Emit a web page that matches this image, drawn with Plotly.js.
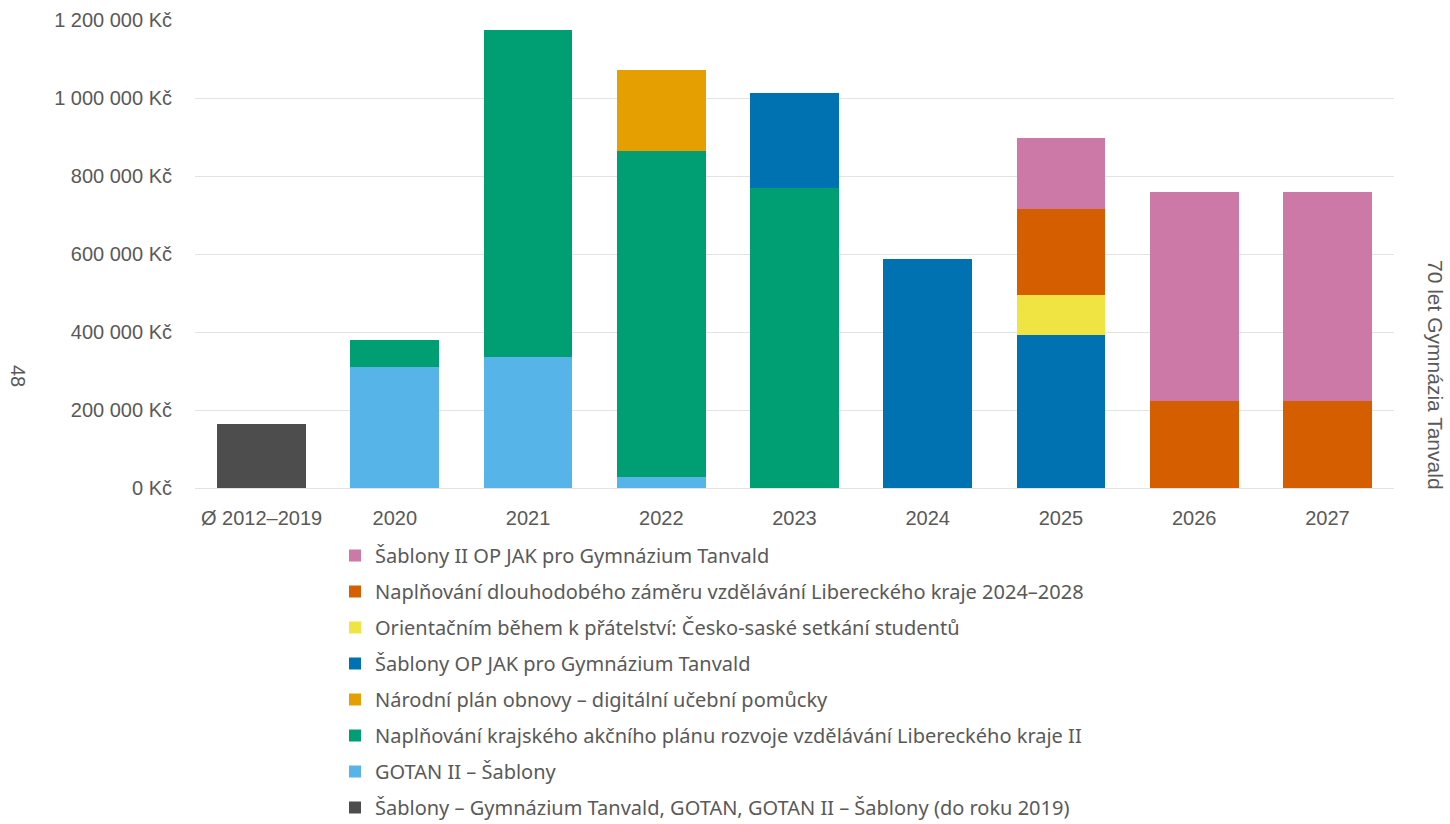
<!DOCTYPE html>
<html>
<head>
<meta charset="utf-8">
<script src="https://cdn.plot.ly/plotly-3.0.1.min.js"></script>
<style>
html,body{margin:0;padding:0;background:#fff;}
#chart{width:1450px;height:824px;}
</style>
</head>
<body>
<div id="chart"></div>
<script>
// Categories (x axis)
const categories = ["Ø 2012–2019", "2020", "2021", "2022", "2023", "2024", "2025", "2026", "2027"];

// Series values (Kč), stacked bottom to top
const sablonyDo2019   = [165000, 0, 0, 0, 0, 0, 0, 0, 0];
const gotanIISablony  = [0, 309000, 337000, 28000, 0, 0, 0, 0, 0];
const krajskyAkcni    = [0, 70000, 837000, 837000, 768000, 0, 0, 0, 0];
const narodniPlan     = [0, 0, 0, 207000, 0, 0, 0, 0, 0];
const sablonyOPJAK    = [0, 0, 0, 0, 244000, 588000, 392000, 0, 0];
const orientacnim     = [0, 0, 0, 0, 0, 0, 103000, 0, 0];
const dlouhodobyZamer = [0, 0, 0, 0, 0, 0, 221000, 223000, 223000];
const sablonyIIOPJAK  = [0, 0, 0, 0, 0, 0, 181000, 537000, 537000];

// Series names
const seriesNames = [
  "Šablony – Gymnázium Tanvald, GOTAN, GOTAN II – Šablony (do roku 2019)",
  "GOTAN II – Šablony",
  "Naplňování krajského akčního plánu rozvoje vzdělávání Libereckého kraje II",
  "Národní plán obnovy – digitální učební pomůcky",
  "Šablony OP JAK pro Gymnázium Tanvald",
  "Orientačním během k přátelství: Česko-saské setkání studentů",
  "Naplňování dlouhodobého záměru vzdělávání Libereckého kraje 2024–2028",
  "Šablony II OP JAK pro Gymnázium Tanvald"
];
const seriesColors = ["#4D4D4D", "#56B4E9", "#009E73", "#E69F00", "#0072B2", "#F0E442", "#D55E00", "#CC79A7"];
const seriesValues = [sablonyDo2019, gotanIISablony, krajskyAkcni, narodniPlan, sablonyOPJAK, orientacnim, dlouhodobyZamer, sablonyIIOPJAK];

// Y tick values and labels
const yTickValues = [0, 200000, 400000, 600000, 800000, 1000000, 1200000];
const yTickLabels = ["0 Kč", "200 000 Kč", "400 000 Kč", "600 000 Kč", "800 000 Kč", "1 000 000 Kč", "1 200 000 Kč"];

const textGray = "#595959";

const traces = seriesValues.map((vals, i) => ({
  type: "bar",
  name: seriesNames[i],
  x: categories,
  y: vals.map(v => v === 0 ? null : v),
  marker: {color: seriesColors[i], line: {width: 0}},
  legendgroup: "g" + i,
  legendrank: 1000 - i,
  hoverinfo: "name+y"
}));

const layout = {
  width: 1450,
  height: 824,
  paper_bgcolor: "#ffffff",
  plot_bgcolor: "#ffffff",
  barmode: "stack",
  bargap: 0.333,
  margin: {l: 195, r: 56, t: 20, b: 336, autoexpand: false},
  font: {family: "Liberation Sans, Arial, sans-serif", color: textGray},
  xaxis: {
    type: "category",
    tickfont: {size: 20, color: textGray, family: "Liberation Sans, Arial, sans-serif"},
    tickangle: 0,
    showgrid: false,
    showline: false,
    ticks: "",
    ticklabelstandoff: 16,
    zeroline: false
  },
  yaxis: {
    range: [0, 1200000],
    tickvals: yTickValues,
    ticktext: yTickLabels,
    tickfont: {size: 20, color: textGray, family: "Liberation Sans, Arial, sans-serif"},
    showgrid: true,
    gridcolor: "#E3E3E3",
    gridwidth: 1,
    zeroline: true,
    zerolinecolor: "#E3E3E3",
    zerolinewidth: 1,
    showline: false,
    ticks: "",
    ticklabelstandoff: 22,
    fixedrange: true
  },
  legend: {
    orientation: "v",
    traceorder: "grouped",
    tracegroupgap: 7,
    xref: "container",
    yref: "container",
    x: 335 / 1450,
    y: 1 - 536 / 824,
    xanchor: "left",
    yanchor: "top",
    font: {family: "Noto Sans, sans-serif", size: 20, color: textGray},
    bgcolor: "rgba(0,0,0,0)"
  },
  annotations: [
    {
      text: "48",
      xref: "paper", yref: "paper",
      x: (18 - 195) / 1199, y: (488 - 376) / 468,
      showarrow: false, textangle: 90,
      font: {size: 20, color: textGray, family: "Liberation Sans, Arial, sans-serif"},
      xanchor: "center", yanchor: "middle"
    },
    {
      text: "70 let Gymnázia Tanvald",
      xref: "paper", yref: "paper",
      x: (1436 - 195) / 1199, y: (488 - 375) / 468,
      showarrow: false, textangle: 90,
      font: {size: 21, color: textGray, family: "Liberation Sans, Arial, sans-serif"},
      xanchor: "center", yanchor: "middle"
    }
  ],
  showlegend: true
};

Plotly.newPlot("chart", traces, layout, {displayModeBar: false, staticPlot: true});
</script>
</body>
</html>
